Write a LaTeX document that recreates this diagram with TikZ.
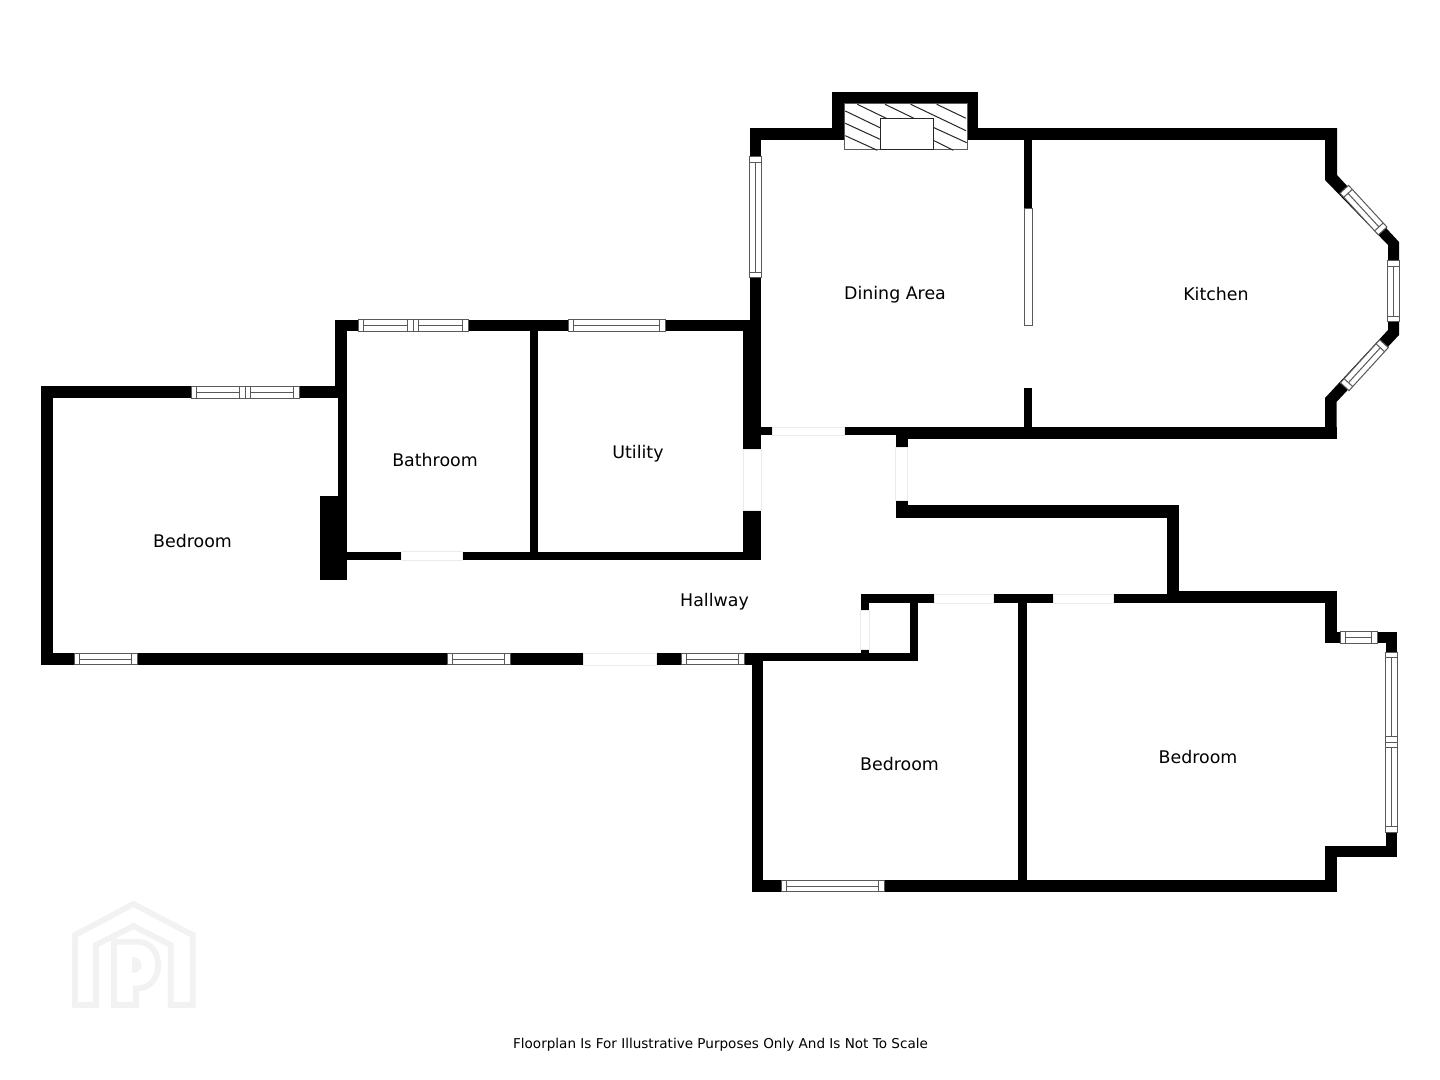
\documentclass[tikz,border=0pt]{standalone}
\usepackage{fontspec}
\setmainfont{DejaVu Sans}
\tikzset{
  winline/.style={draw=black!65,line width=0.5pt,fill=white},
  winbar/.style={draw=black!65,line width=0.5pt},
  gapline/.style={draw=black!8,line width=0.4pt,fill=white},
  hatchline/.style={draw=black!85,line width=0.5pt},
  roomlabel/.style={font=\fontsize{8.7}{10}\selectfont,text=black,inner sep=0pt},
  footlabel/.style={font=\fontsize{6.78}{8}\selectfont,text=black,inner sep=0pt},
  logoline/.style={draw=black!5,line width=2.9pt,line join=miter}
}
\newcommand{\wl}[4]{\fill[black] (#1,#2) rectangle (#3,#4);}
\newcommand{\gapbox}[4]{\path[gapline] (#1,#2) rectangle (#3,#4);}
\newcommand{\winS}[4]{%
  \pgfmathsetmacro{\wang}{atan2(-(#4-#2),#3-#1)}%
  \pgfmathsetmacro{\wlen}{veclen(#3-#1,#4-#2)}%
  \begin{scope}[shift={(#1,#2)},rotate=\wang]
    \path[winline] (0,-5.8) rectangle (\wlen,5.8);
    \draw[winbar] (5.5,-5.8) -- (5.5,5.8);
    \draw[winbar] (\wlen-5.5,-5.8) -- (\wlen-5.5,5.8);
    \draw[winbar] (5.5,0) -- (\wlen-5.5,0);
  \end{scope}}
\newcommand{\winD}[4]{%
  \pgfmathsetmacro{\wang}{atan2(-(#4-#2),#3-#1)}%
  \pgfmathsetmacro{\wlen}{veclen(#3-#1,#4-#2)}%
  \begin{scope}[shift={(#1,#2)},rotate=\wang]
    \path[winline] (0,-5.8) rectangle (\wlen,5.8);
    \draw[winbar] (5.5,-5.8) -- (5.5,5.8);
    \draw[winbar] (\wlen-5.5,-5.8) -- (\wlen-5.5,5.8);
    \draw[winbar] (\wlen/2-5.5,-5.8) -- (\wlen/2-5.5,5.8);
    \draw[winbar] (\wlen/2,-5.8) -- (\wlen/2,5.8);
    \draw[winbar] (\wlen/2+5.5,-5.8) -- (\wlen/2+5.5,5.8);
    \draw[winbar] (5.5,0) -- (\wlen/2-5.5,0);
    \draw[winbar] (\wlen/2+5.5,0) -- (\wlen-5.5,0);
  \end{scope}}
\begin{document}
\begin{tikzpicture}[x=0.5pt,y=-0.5pt]
\useasboundingbox (0,0) rectangle (1440,1080);
% logo
\begin{scope}[shift={(50,890)},x=0.1667pt,y=-0.1667pt]
  \draw[logoline] (75,345) -- (75,135) -- (250,42) -- (428,135) -- (428,345) -- (362,345) -- (362,165) -- (250,108) -- (138,165) -- (138,345) -- cycle;
  \draw[logoline] (192,345) -- (192,155) -- (262,155) .. controls (345,155) and (345,295) .. (262,295) -- (258,295) -- (258,345) -- cycle;
  \fill[black!5] (245,200) .. controls (285,200) and (285,250) .. (245,250) -- cycle;
\end{scope}
% upper block: dining and kitchen
\wl{750}{128.5}{1337}{140}
\wl{750}{128.5}{761}{320}
\wl{832}{92}{845}{140}
\wl{966}{92}{978}{140}
\wl{832}{92}{978}{104}
\fill[black] (1325,128.5) -- (1337,128.5) -- (1337,175) -- (1399,242) -- (1399,335) -- (1336.5,402) -- (1336.5,439) -- (1325,439) -- (1325,398) -- (1388,330) -- (1388,245) -- (1325,180) -- cycle;
\wl{1024}{140}{1032}{209}
\wl{1024}{388}{1032}{432}
\path[winline] (1024,209) rectangle (1032,326);
\wl{896}{427}{1337}{439}
\wl{844}{427}{900}{435}
\wl{761}{427}{772}{435}
% chimney
\path[winline] (844,104) rectangle (967,150);
\draw[hatchline] (857.3,104.3) -- (888.3,119.3);
\draw[hatchline] (885,104.3) -- (916,119.3);
\draw[hatchline] (910.7,104.3) -- (966,130.7);
\draw[hatchline] (936.7,104.3) -- (966,118.3);
\draw[hatchline] (845.3,111) -- (880,127.7);
\draw[hatchline] (845.3,123.3) -- (880,139.3);
\draw[hatchline] (845.3,135.7) -- (877.3,150.3);
\draw[hatchline] (934,127.7) -- (966.7,142.7);
\draw[hatchline] (934,140.7) -- (953.3,150.3);
\path[draw=black!85,line width=0.5pt,fill=white] (880,119) rectangle (933,150);
% middle block: bathroom and utility
\wl{335}{320}{761}{331.5}
\wl{335}{320}{347}{398.5}
\wl{743.3}{320}{761}{449.3}
\wl{743.3}{510.7}{761}{560}
\wl{530}{331}{538}{552}
\wl{346}{551.5}{401}{560}
\wl{462.7}{551.5}{761}{560}
% left bedroom
\wl{41}{386.5}{339}{398.5}
\wl{41}{386.5}{53}{665}
\wl{338}{386.5}{346.7}{500}
\wl{320}{496}{346.7}{580}
\wl{41}{653}{583.7}{665}
\wl{656.7}{653}{763.3}{665}
% hall walls
\wl{895.7}{427}{907.7}{447.7}
\wl{895.7}{500.3}{907.7}{517.7}
\wl{895.7}{505.3}{1179}{517.7}
\wl{1167}{505.3}{1179}{602}
\wl{1167}{590.7}{1337}{602.7}
\wl{1325}{590.7}{1337}{643.3}
% lower block
\wl{860.7}{594}{934}{603}
\wl{993}{594}{1053}{603}
\wl{1113}{594}{1170}{603}
\wl{860.7}{594}{869}{610}
\wl{860.7}{649}{869}{661}
\wl{910}{594}{918.3}{661}
\wl{751.7}{653}{918.3}{661}
\wl{751.7}{653}{763.3}{892.3}
\wl{751.7}{880}{1337}{892.3}
\wl{1018}{603}{1027}{880}
\wl{1325}{845.7}{1337}{892.3}
\wl{1325}{845.7}{1397.3}{857.3}
\wl{1385.7}{832}{1397.3}{857.3}
\wl{1325}{631.7}{1340}{643.3}
\wl{1377}{631.7}{1397.3}{643.3}
\wl{1385.7}{631.7}{1397.3}{652}
% door openings
\gapbox{772}{427}{844}{435}
\gapbox{743.3}{449.3}{761}{510.7}
\gapbox{895.7}{447.7}{907.7}{500.3}
\gapbox{401}{551.5}{462.7}{560}
\gapbox{583.7}{653}{656.7}{665}
\gapbox{860.7}{610}{869}{649}
\gapbox{934}{594}{993}{603}
\gapbox{1053}{594}{1113}{603}
% windows
\winS{755.5}{157}{755.5}{278}
\winD{358}{325.7}{468}{325.7}
\winS{568}{325.7}{665}{325.7}
\winD{191}{392.5}{299}{392.5}
\winS{74}{659}{137}{659}
\winS{447}{659}{510}{659}
\winS{681}{659}{744}{659}
\winS{781}{886}{884}{886}
\winS{1344.3}{189.3}{1382.7}{231}
\winS{1393.5}{260.7}{1393.5}{321.7}
\winS{1344.7}{386.7}{1384}{343.7}
\winS{1340}{637.5}{1377.3}{637.5}
\winD{1391.5}{652}{1391.5}{832.3}
% labels
\node[roomlabel] (dining) at (895,295) {Dining Area};
\node[roomlabel] (kitchen) at (1216,294) {Kitchen};
\node[roomlabel] (bath) at (435,460) {Bathroom};
\node[roomlabel] (utility) at (638,453.5) {Utility};
\node[roomlabel] (bedA) at (192.5,541) {Bedroom};
\node[roomlabel] (hall) at (714.5,601.5) {Hallway};
\node[roomlabel] (bedB) at (899.5,764.5) {Bedroom};
\node[roomlabel] (bedC) at (1198,757) {Bedroom};
\node[footlabel] (foot) at (720.5,1045) {Floorplan Is For Illustrative Purposes Only And Is Not To Scale};
\end{tikzpicture}
\end{document}
